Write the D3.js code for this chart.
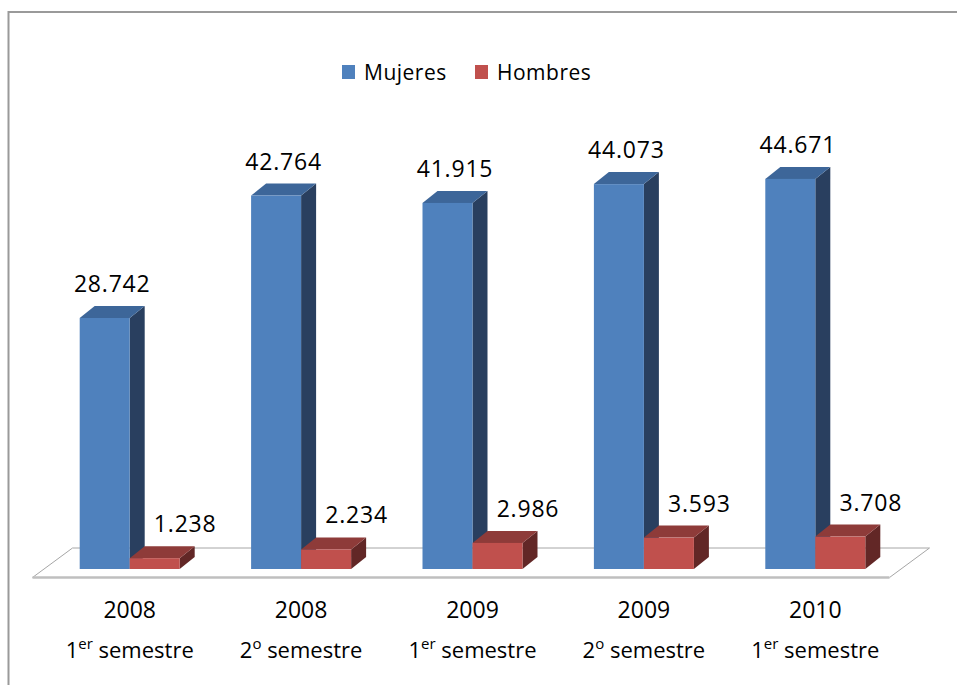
<!DOCTYPE html>
<html>
<head>
<meta charset="utf-8">
<script src="https://cdn.jsdelivr.net/npm/d3@7"></script>
<style>
  body { margin: 0; background: #fff; }
  svg text { font-family: "Open Sans", sans-serif; fill: #000; }
</style>
</head>
<body>
<svg id="chart" width="957" height="685"></svg>
<script>
// data
const years = ["2008", "2008", "2009", "2009", "2010"];
const semesters = [["1", "er"], ["2", "o"], ["1", "er"], ["2", "o"], ["1", "er"]];
const series = ["Mujeres", "Hombres"];
const mujeres = [28742, 42764, 41915, 44073, 44671];
const hombres = [1238, 2234, 2986, 3593, 3708];

const colors = {
  Mujeres: { front: "#4f81bd", top: "#3d6699", side: "#293f5f" },
  Hombres: { front: "#c0504d", top: "#8e3b39", side: "#622726" }
};

const svg = d3.select("#chart");
const fmt = d3.formatLocale({ decimal: ",", thousands: ".", grouping: [3] }).format(",");

// chart frame
svg.append("rect")
  .attr("x", 8.5).attr("y", 12)
  .attr("width", 960).attr("height", 690)
  .attr("fill", "#fff")
  .attr("stroke", "#9a9a9a")
  .attr("stroke-width", 2);

const x = d3.scaleBand().domain(d3.range(5)).range([44, 901]);
const groupW = 100;
const xs = d3.scaleBand().domain(series).range([0, groupW]);
const y = d3.scaleLinear().domain([0, 50000]).range([569, 569 - 50000 * 251 / 28742]);

const dx = 15, dy = -12;

// floor
const fl = x.range()[0] - 11.5, fr = x.range()[1] - 11.5;
const fy = y(0) + 8.5;
const bdx = 40, bdy = -29.5;
svg.append("path")
  .attr("d", `M${fl},${fy} L${fl + bdx},${fy + bdy} L${fr + bdx},${fy + bdy} L${fr},${fy}`)
  .attr("fill", "none")
  .attr("stroke", "#a6a6a6")
  .attr("stroke-width", 1);
svg.append("line")
  .attr("x1", fl).attr("x2", fr)
  .attr("y1", fy).attr("y2", fy)
  .attr("stroke", "#bfbfbf")
  .attr("stroke-width", 2.5);

const rows = d3.range(5).map(i => ({ i, Mujeres: mujeres[i], Hombres: hombres[i] }));

const g = svg.append("g");
rows.forEach(r => {
  const gx = x(r.i) + x.bandwidth() / 2 - groupW / 2;
  series.forEach(s => {
    const x0 = gx + xs(s), w = xs.bandwidth();
    const yt = y(r[s]), yb = y(0);
    const c = colors[s];
    g.append("path")
      .attr("d", `M${x0 + w},${yb} L${x0 + w + dx},${yb + dy} L${x0 + w + dx},${yt + dy} L${x0 + w},${yt} Z`)
      .attr("fill", c.side);
    g.append("path")
      .attr("d", `M${x0},${yt} L${x0 + dx},${yt + dy} L${x0 + w + dx},${yt + dy} L${x0 + w},${yt} Z`)
      .attr("fill", c.top);
    g.append("rect")
      .attr("x", x0).attr("y", yt)
      .attr("width", w).attr("height", yb - yt)
      .attr("fill", c.front);
    g.append("text")
      .attr("x", x0 + w / 2 + dx / 2 + (s === "Hombres" ? 23 : 0))
      .attr("y", yt + dy - 14)
      .attr("text-anchor", "middle")
      .style("font-size", "23px")
      .style("letter-spacing", "0.8px")
      .text(fmt(r[s]));
  });
});

// category labels
const lab = svg.append("g");
rows.forEach(r => {
  const cx = x(r.i) + x.bandwidth() / 2;
  lab.append("text")
    .attr("x", cx).attr("y", 618)
    .attr("text-anchor", "middle")
    .style("font-size", "23px")
    .text(years[r.i]);
  const t = lab.append("text")
    .attr("x", cx).attr("y", 658)
    .attr("text-anchor", "middle")
    .style("font-size", "22px");
  t.append("tspan").text(semesters[r.i][0]);
  t.append("tspan").attr("dy", -9).style("font-size", "15px").text(semesters[r.i][1]);
  t.append("tspan").attr("dy", 9).text(" semestre");
});

// legend
const leg = svg.append("g");
const legX = [342, 475];
series.forEach((s, i) => {
  leg.append("rect")
    .attr("x", legX[i]).attr("y", 65)
    .attr("width", 13).attr("height", 14)
    .attr("fill", colors[s].front);
  leg.append("text")
    .attr("x", legX[i] + 22).attr("y", 80)
    .style("font-size", "21px")
    .style("letter-spacing", "0.5px")
    .text(s);
});
</script>
</body>
</html>
